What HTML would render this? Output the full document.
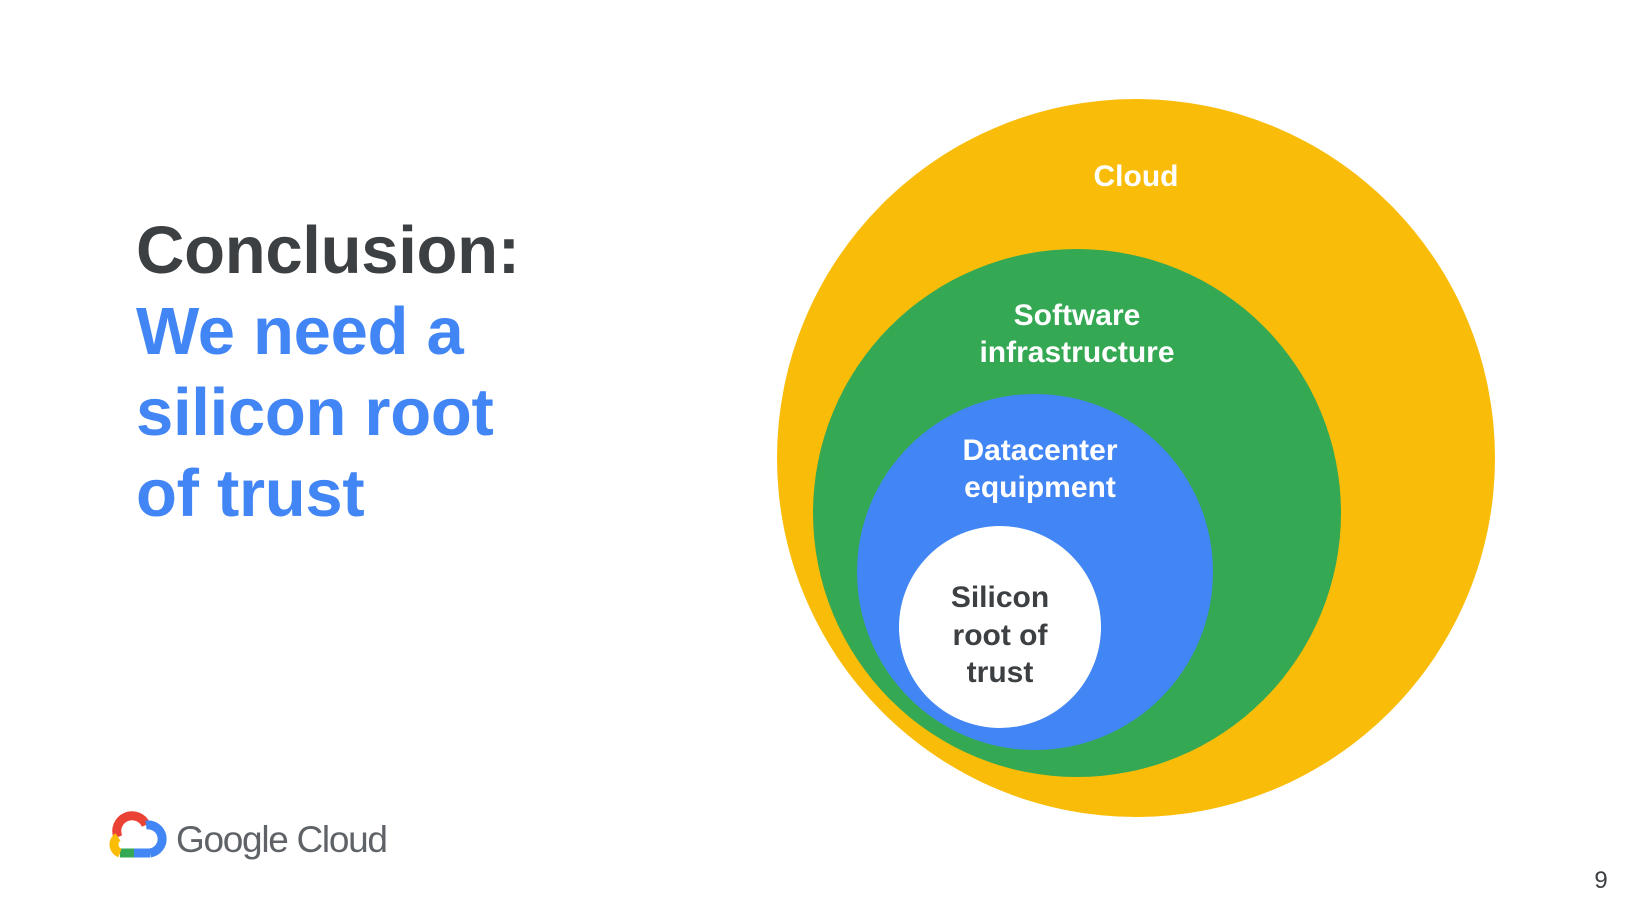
<!DOCTYPE html>
<html><head><meta charset="utf-8"><style>
html,body{margin:0;padding:0;background:#fff;}
body{width:1625px;height:914px;position:relative;overflow:hidden;font-family:"Liberation Sans",sans-serif;}
.t{position:absolute;left:136px;font-weight:bold;font-size:67px;line-height:81px;letter-spacing:-0.3px;}
</style></head><body>
<div class="t" style="top:210px;color:#3c4043">Conclusion:</div>
<div class="t" style="top:291px;color:#4285f4">We need a</div>
<div class="t" style="top:372px;color:#4285f4">silicon root</div>
<div class="t" style="top:453px;color:#4285f4">of trust</div>
<svg width="1625" height="914" style="position:absolute;left:0;top:0" font-family="Liberation Sans, sans-serif" font-weight="bold" text-anchor="middle">
<circle cx="1136" cy="458" r="359" fill="#f9bc09"/>
<circle cx="1077" cy="513" r="264" fill="#34a853"/>
<circle cx="1035" cy="572" r="178" fill="#4285f4"/>
<circle cx="1000" cy="627" r="101" fill="#fff"/>
<g font-size="30" fill="#fff">
<text x="1136" y="186">Cloud</text>
<text x="1077" y="325">Software</text>
<text x="1077" y="362">infrastructure</text>
<text x="1040" y="460">Datacenter</text>
<text x="1040" y="497">equipment</text>
</g>
<g font-size="30" fill="#3c4043">
<text x="1000" y="607">Silicon</text>
<text x="1000" y="645">root of</text>
<text x="1000" y="682">trust</text>
</g>
<g transform="translate(108,815)" fill="none" stroke-width="9">
<path d="M10 22 A14 14 0 0 1 38 10" stroke="#ea4335"/>
<path d="M38 10 A14 14 0 0 1 42 38" stroke="#4285f4"/>
<path d="M42 38 L26 38" stroke="#4285f4"/>
<path d="M26 38 L12 38" stroke="#34a853"/>
<path d="M12 38 A9 9 0 0 1 10 22" stroke="#fbbc04"/>
</g>
<text x="176" y="852" text-anchor="start" font-weight="normal" font-size="37" fill="#5f6368" letter-spacing="-1.3">Google Cloud</text>
<text x="1601" y="888" font-weight="normal" font-size="24" fill="#3c4043">9</text>
</svg>
</body></html>
